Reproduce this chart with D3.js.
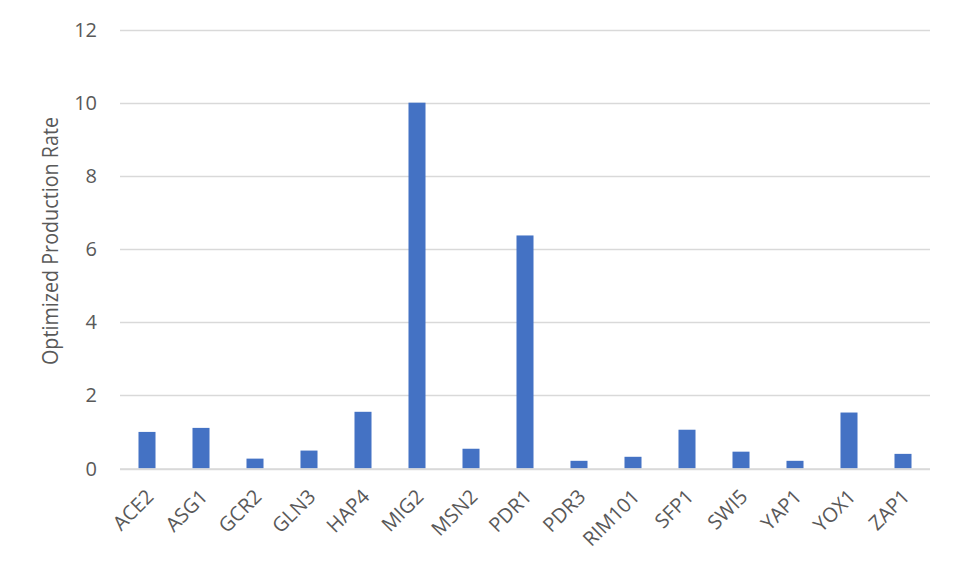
<!DOCTYPE html>
<html>
<head>
<meta charset="utf-8">
<script src="https://cdn.jsdelivr.net/npm/d3@7"></script>
<style>
  body { margin: 0; background: #fff; }
  text { font-family: "Open Sans", "Liberation Sans", sans-serif; }
</style>
</head>
<body>
<svg id="chart" width="955" height="575"></svg>
<script>
var genes = ["ACE2","ASG1","GCR2","GLN3","HAP4","MIG2","MSN2","PDR1","PDR3","RIM101","SFP1","SWI5","YAP1","YOX1","ZAP1"];
var rates = [1.0, 1.11, 0.27, 0.49, 1.55, 10.0, 0.54, 6.37, 0.21, 0.32, 1.06, 0.46, 0.21, 1.53, 0.40];
var yTicks = [0, 2, 4, 6, 8, 10, 12];

var svg = d3.select("#chart");
var plotLeft = 120, plotRight = 930, plotTop = 29.5, plotBottom = 468.5;

var x = d3.scaleBand()
    .domain(genes)
    .range([plotLeft, plotRight])
    .paddingInner(0.685)
    .paddingOuter(0.3425);

var y = d3.scaleLinear()
    .domain([0, 12])
    .range([plotBottom, plotTop]);

// gridlines
svg.append("g")
  .selectAll("line")
  .data(yTicks)
  .enter()
  .append("line")
    .attr("x1", plotLeft)
    .attr("x2", plotRight)
    .attr("y1", function(d){ return Math.round(y(d)) + 0.5; })
    .attr("y2", function(d){ return Math.round(y(d)) + 0.5; })
    .attr("stroke", "#d9d9d9")
    .attr("stroke-width", 1.3);

// y tick labels
svg.append("g")
  .selectAll("text")
  .data(yTicks)
  .enter()
  .append("text")
    .attr("x", 97)
    .attr("y", function(d){ return y(d); })
    .attr("dy", "0.35em")
    .attr("text-anchor", "end")
    .attr("fill", "#595959")
    .attr("font-size", "20px")
    .text(function(d){ return d; });

// bars
svg.append("g")
  .selectAll("rect")
  .data(rates)
  .enter()
  .append("rect")
    .attr("x", function(d, i){ return x(genes[i]); })
    .attr("y", function(d){ return y(d); })
    .attr("width", x.bandwidth())
    .attr("height", function(d){ return plotBottom - y(d); })
    .attr("fill", "#4472c4");

// x axis line
svg.append("line")
    .attr("x1", plotLeft)
    .attr("x2", plotRight)
    .attr("y1", plotBottom + 0.5)
    .attr("y2", plotBottom + 0.5)
    .attr("stroke", "#d9d9d9")
    .attr("stroke-width", 1.5);

// x labels, rotated
svg.append("g")
  .selectAll("text")
  .data(genes)
  .enter()
  .append("text")
    .attr("transform", function(d){
        var cx = x(d) + x.bandwidth() / 2 + 3;
        return "translate(" + cx + "," + 493 + ") rotate(-45)";
    })
    .attr("text-anchor", "end")
    .attr("dy", "0.35em")
    .attr("fill", "#595959")
    .attr("font-size", "20px")
    .text(function(d){ return d; });

// y axis title
svg.append("text")
    .attr("transform", "translate(58," + ((plotTop + plotBottom) / 2 - 8) + ") rotate(-90)")
    .attr("text-anchor", "middle")
    .attr("fill", "#595959")
    .attr("font-size", "22px")
    .attr("textLength", 248)
    .attr("lengthAdjust", "spacingAndGlyphs")
    .text("Optimized Production Rate");
</script>
</body>
</html>
